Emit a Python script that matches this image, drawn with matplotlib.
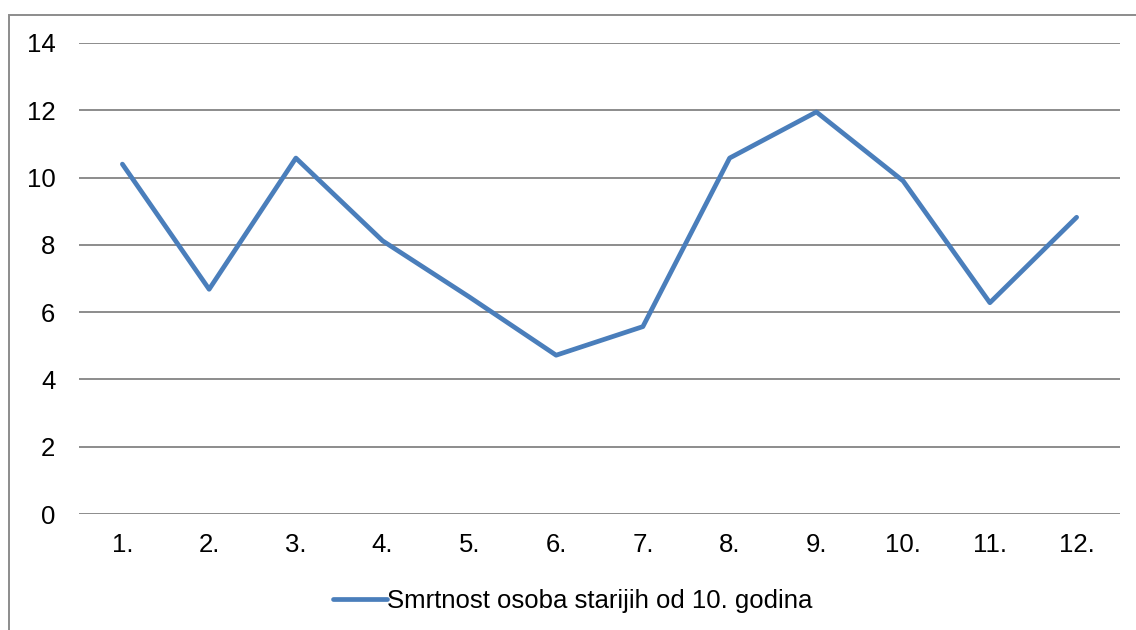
import matplotlib
matplotlib.use("Agg")
import matplotlib.pyplot as plt
from matplotlib.patches import Rectangle
from matplotlib.lines import Line2D

categories = ["1.", "2.", "3.", "4.", "5.", "6.", "7.", "8.", "9.", "10.", "11.", "12."]
values = [10.4, 6.68, 10.58, 8.12, 6.45, 4.72, 5.57, 10.58, 11.95, 9.9, 6.28, 8.82]
yticks = [0, 2, 4, 6, 8, 10, 12, 14]
series_name = "Smrtnost osoba starijih od 10. godina"

plt.rcParams['font.family'] = ['Liberation Sans', 'DejaVu Sans']

W, H = 1136, 630
FS = 18.5
fig = plt.figure(figsize=(W / 100, H / 100), dpi=100)
ax = fig.add_axes([79 / W, 1 - 514 / H, (1120 - 79) / W, (514 - 43) / H])

x = list(range(len(categories)))
ax.plot(x, values, color="#4A7EBB", lw=3.4, solid_joinstyle="round", solid_capstyle="round")

ax.set_xlim(-0.5, len(categories) - 0.5)
ax.set_ylim(0, 14)
ax.set_yticks(yticks)
ax.set_xticks(x)
ax.set_xticklabels(categories)
ax.grid(axis="y", color="#8c8c8c", lw=1.4)
ax.set_axisbelow(True)
for s in ax.spines.values():
    s.set_visible(False)
ax.tick_params(axis="both", length=0, labelsize=FS, colors="black")
ax.tick_params(axis="y", pad=17)
ax.tick_params(axis="x", pad=14)

# outer chart border
fig.patches.append(Rectangle((8.5 / W, -0.05), (W - 8) / W + 0.05, 1 - 15 / H + 0.05,
                             transform=fig.transFigure, fill=False, edgecolor="#8c8c8c", lw=1.4))

fig.legend(handles=[Line2D([0], [0], color="#4A7EBB", lw=3.4, solid_capstyle="round")],
           labels=[series_name], loc="center", bbox_to_anchor=(573 / W, 1 - 601 / H),
           frameon=False, fontsize=FS, handlelength=2.1, handletextpad=0.0,
           borderpad=0, borderaxespad=0)

fig.savefig("out.png", dpi=100)
